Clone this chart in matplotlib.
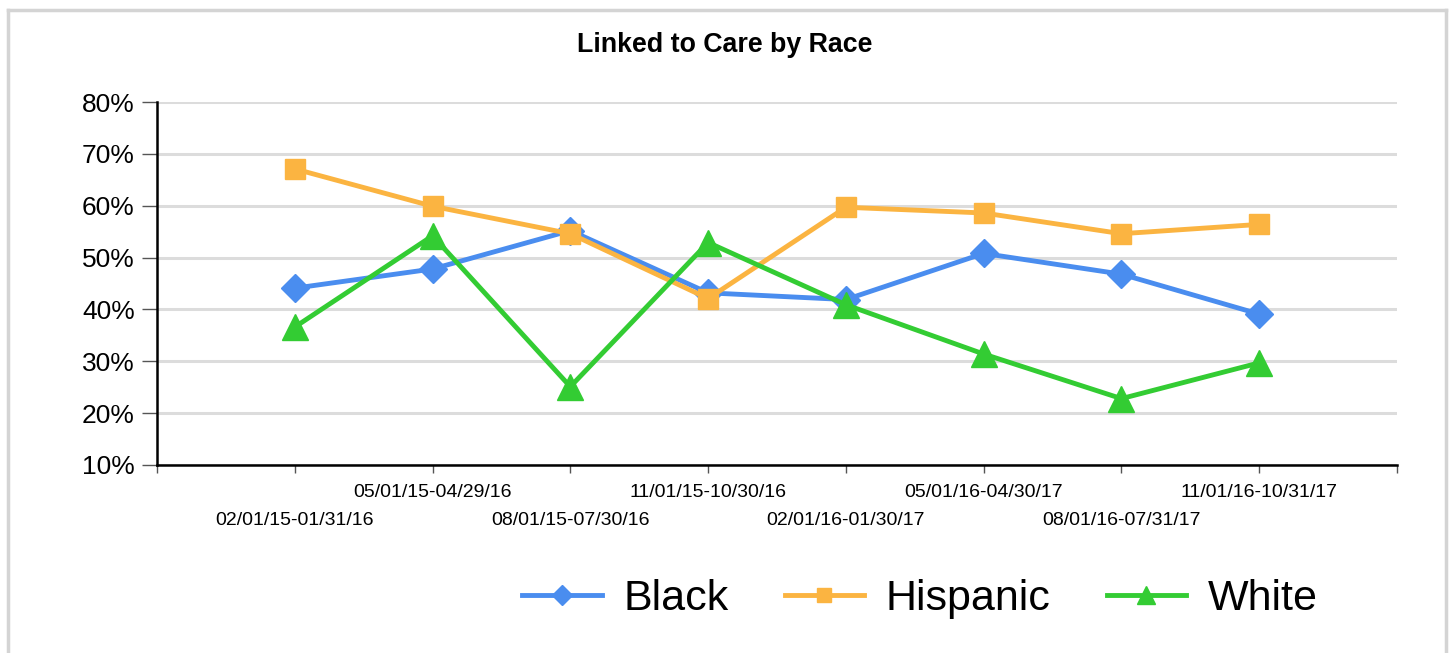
import matplotlib
matplotlib.use("Agg")
import matplotlib.pyplot as plt
from matplotlib.lines import Line2D
from matplotlib.ticker import FuncFormatter

plt.rcParams['font.family'] = ['Liberation Sans', 'DejaVu Sans']

# Data
periods = ["02/01/15-01/31/16", "05/01/15-04/29/16", "08/01/15-07/30/16",
           "11/01/15-10/30/16", "02/01/16-01/30/17", "05/01/16-04/30/17",
           "08/01/16-07/31/17", "11/01/16-10/31/17"]
black = [44.1, 47.8, 55.2, 43.2, 41.9, 50.8, 46.8, 39.1]
hispanic = [67.1, 59.9, 54.6, 42.1, 59.7, 58.6, 54.6, 56.4]
white = [36.6, 54.2, 25.1, 52.9, 40.9, 31.4, 22.8, 29.7]

x = list(range(1, len(periods) + 1))
n = len(periods)

fig = plt.figure(figsize=(14.5, 6.53), dpi=100)
ax = fig.add_axes([157/1450, 1-465/653, (1397-157)/1450, (465-102)/653])

ax.plot(x, black, color="#4A8DEF", lw=3.5, marker="D", ms=14.5, label="Black", zorder=3)
ax.plot(x, hispanic, color="#FBB441", lw=3.5, marker="s", ms=14, label="Hispanic", zorder=3)
ax.plot(x, white, color="#33CC33", lw=3.5, marker="^", ms=19, label="White", zorder=3)

# Akser
ax.set_xlim(0, n + 1)
ax.set_ylim(10, 80)
ax.set_yticks(range(10, 81, 10))
ax.yaxis.set_major_formatter(FuncFormatter(lambda v, p: f"{v:.0f}%"))
ax.tick_params(axis="y", labelsize=19, length=11, width=1, color="#555555", pad=5)

# Annenhver etikett oppe (major) og nede (minor)
upper = [i for i in x if i % 2 == 0]
lower = [0] + [i for i in x if i % 2 == 1] + [n + 1]
ax.set_xticks(upper)
ax.set_xticklabels([periods[i - 1] for i in upper], fontsize=14)
ax.set_xticks(lower, minor=True)
ax.set_xticklabels([""] + [periods[i - 1] for i in lower[1:-1]] + [""], minor=True, fontsize=14)
ax.tick_params(axis="x", which="major", length=6, width=1, color="#555555", pad=8)
ax.tick_params(axis="x", which="minor", length=6, width=1, color="#555555", pad=28)

ax.grid(True, axis="y", color="#DCDCDC", lw=2.2)
ax.set_axisbelow(True)
ax.spines['right'].set_visible(False)
ax.spines['top'].set_visible(False)
ax.spines['left'].set_linewidth(1.8)
ax.spines['bottom'].set_linewidth(1.8)

fig.text(0.5, 1-45/653, "Linked to Care by Race", ha="center", va="center",
         fontsize=19.3, fontweight="bold")

fig.legend(loc="center", bbox_to_anchor=(920/1450, 1-599/653), ncol=3, frameon=False,
           fontsize=31, handlelength=1.85, handletextpad=0.5, columnspacing=1.3,
           markerscale=0.7)

# Grå ramme rundt figuren (uten bunn)
border = "#D4D4D4"
fig.add_artist(Line2D([8/1450, 1446/1450], [1-10/653, 1-10/653], color=border, lw=2.5))
fig.add_artist(Line2D([8/1450, 8/1450], [0, 1-10/653], color=border, lw=2.5))
fig.add_artist(Line2D([1446/1450, 1446/1450], [0, 1-10/653], color=border, lw=2.5))

fig.savefig("out.png", dpi=100)
